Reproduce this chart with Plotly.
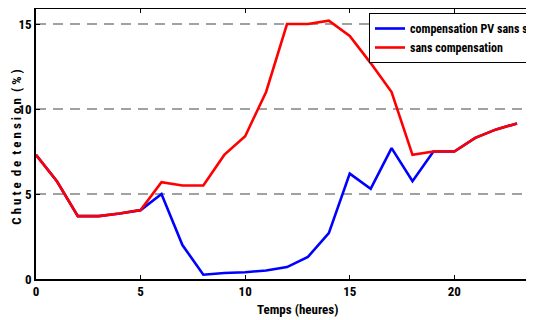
import plotly.graph_objects as go

heures = list(range(24))
sans_compensation = [7.3, 5.75, 3.7, 3.7, 3.85, 4.05, 5.7, 5.5, 5.5, 7.3, 8.4, 11.0,
                     15.0, 15.0, 15.2, 14.3, 12.7, 11.0, 7.3, 7.5, 7.5, 8.3, 8.8, 9.15]
compensation_pv = [7.3, 5.75, 3.7, 3.7, 3.85, 4.05, 5.0, 2.0, 0.25, 0.35, 0.4, 0.5,
                   0.7, 1.3, 2.7, 6.2, 5.3, 7.7, 5.75, 7.5, 7.5, 8.3, 8.8, 9.15]
y_ticks = [0, 5, 10, 15]
x_ticks = [0, 5, 10, 15, 20]

FONT = "Roboto Condensed, DejaVu Sans Condensed, Liberation Sans, Arial"

# page is offset by the browser's 8px body margin; all figure coordinates below are page - 8
L, T, B, R = 28, 1, 49, 4
PW = 534 - L - R
PH = 320 - T - B
BOTTOM = 271.3

fig = go.Figure()
fig.add_trace(go.Scatter(x=heures, y=compensation_pv, mode="lines",
                         name="<b>compensation PV sans stock</b>",
                         line=dict(color="#0000FF", width=2.6)))
fig.add_trace(go.Scatter(x=heures, y=sans_compensation, mode="lines",
                         name="<b>sans compensation</b>",
                         line=dict(color="#FF0000", width=2.6)))
fig.add_trace(go.Scatter(x=[0], y=[0], xaxis="x2", mode="markers",
                         marker=dict(opacity=0), showlegend=False, hoverinfo="skip"))

for v in [5, 10, 15]:
    fig.add_shape(type="line", xref="paper", x0=0, x1=1, yref="y", y0=v, y1=v,
                  line=dict(color="#444444", width=1.2, dash="10px,7px"), layer="below")

fig.update_layout(
    width=534, height=320,
    margin=dict(l=L, r=R, t=T, b=B, autoexpand=False),
    paper_bgcolor="white", plot_bgcolor="white",
    font=dict(family=FONT, size=13, color="black"),
    showlegend=True,
    legend=dict(x=(361 - L) / PW, y=1 - (5 - T) / PH, xanchor="left", yanchor="top",
                bgcolor="white", bordercolor="black", borderwidth=1,
                font=dict(family=FONT, size=12, color="black"),
                itemwidth=30, tracegroupgap=0),
    xaxis=dict(range=[0, 24], tickvals=x_ticks, ticktext=[f"<b>{t}</b>" for t in x_ticks],
               ticks="inside", ticklen=4, tickwidth=1, tickcolor="black",
               showline=True, linecolor="black", linewidth=1.5, showgrid=False,
               zeroline=False, tickfont=dict(family=FONT, size=13)),
    xaxis2=dict(overlaying="x", matches="x", side="top", range=[0, 24], tickvals=x_ticks,
                showticklabels=False, ticks="inside", ticklen=4, tickwidth=1, tickcolor="black",
                showline=True, linecolor="black", linewidth=1.5, showgrid=False, zeroline=False),
    yaxis=dict(range=[0, PH / 17.0], tickvals=y_ticks, ticktext=[f"<b>{t}</b>" for t in y_ticks],
               ticks="inside", ticklen=4, tickwidth=1, tickcolor="black",
               showline=True, linecolor="black", linewidth=1.5, showgrid=False,
               zeroline=False, tickfont=dict(family=FONT, size=13)),
)

fig.add_annotation(text="<b>Temps (heures)</b>", xref="paper", yref="paper",
                   x=(289 - L) / PW, y=-(302 - BOTTOM) / PH, xanchor="center", yanchor="middle",
                   showarrow=False, font=dict(family=FONT, size=13))
fig.add_annotation(text="<b>C h u t e  d e  t e n s i o n  ( % )</b>", xref="paper", yref="paper",
                   x=(9 - L) / PW, y=(BOTTOM - 140) / PH, xanchor="center", yanchor="middle",
                   textangle=-90, showarrow=False, font=dict(family=FONT, size=13))

fig.write_html("out.html")
